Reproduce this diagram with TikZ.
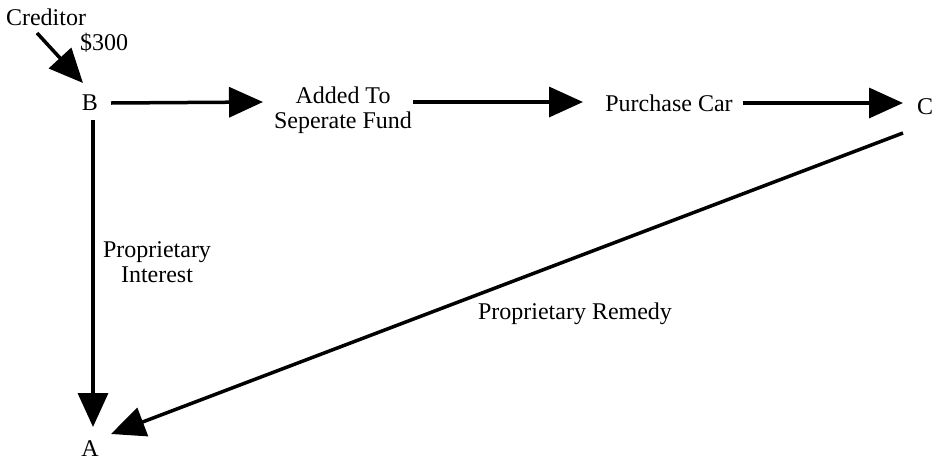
\documentclass[tikz,border=0pt]{standalone}
\usepackage{fontspec}
\setmainfont{Liberation Serif}
\usetikzlibrary{arrows.meta}
\tikzset{
  lbl/.style={inner sep=1pt, font=\fontsize{24}{25}\selectfont, align=center},
  flow/.style={line width=3.5pt, -{Triangle[length=34pt, width=30pt]}}
}
\begin{document}
\begin{tikzpicture}[x=1pt, y=-1pt]
\useasboundingbox (0,0) rectangle (943,461);
\node[lbl] (cred) at (46,17) {Creditor};
\node[lbl] (amt) at (104,43) {\$300};
\node[lbl] (B) at (90,103) {B};
\node[lbl] (fund) at (343,110) {Added To\\Seperate Fund};
\node[lbl] (car) at (669,103) {Purchase Car};
\node[lbl] (C) at (925,107) {C};
\node[lbl] (A) at (90,449) {A};
\coordinate (credend) at (37,33);

\draw[flow] (credend) -- (83,83);
\draw[flow] (B.east) ++(12,0) -- (263,102);
\draw[flow] (fund.east) ++(0,-8) -- (583,102);
\draw[flow] (car.east) ++(9,0) -- (903,103);
\draw[flow] (93,120) -- (93,427) node[midway, lbl, xshift=64pt, yshift=11pt] {Proprietary\\Interest};
\draw[flow] (903,133) -- (111,434) node[midway, lbl, xshift=68pt, yshift=-30pt] {Proprietary Remedy};
\end{tikzpicture}
\end{document}
